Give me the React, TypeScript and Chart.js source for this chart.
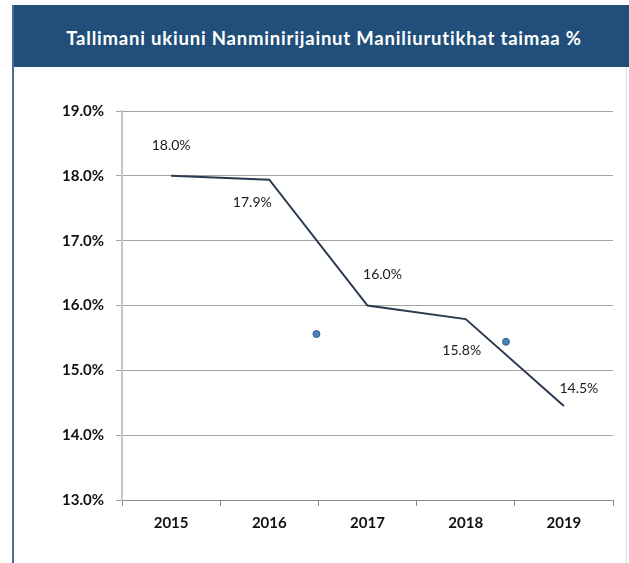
import React, { useEffect, useRef } from "react";
import { Chart, registerables } from "chart.js";

Chart.register(...registerables);

const TITLE = "Tallimani ukiuni Nanminirijainut Maniliurutikhat taimaa %";
const YEARS = ["2015", "2016", "2017", "2018", "2019"];
const RATES = [18.0, 17.94, 16.0, 15.79, 14.45];
const RATE_LABELS = ["18.0%", "17.9%", "16.0%", "15.8%", "14.5%"];
const STRAY_X = [1.48, 3.41];
const STRAY_Y = [15.56, 15.44];
const Y_MIN = 13;
const Y_MAX = 19;

const FONT = 'Lato, "Open Sans", "Liberation Sans", sans-serif';
const LABEL_OFFSETS: [number, number][] = [
  [0, -30],
  [-17, 23],
  [15, -31],
  [-4, 31],
  [15, -18],
];

const labelPlugin = {
  id: "rateLabels",
  afterDatasetsDraw(chart: any) {
    const meta = chart.getDatasetMeta(0);
    const ctx = chart.ctx;
    ctx.save();
    ctx.font = `14px ${FONT}`;
    ctx.fillStyle = "#1a1a1a";
    ctx.textAlign = "center";
    ctx.textBaseline = "middle";
    meta.data.forEach((pt: any, i: number) => {
      const [dx, dy] = LABEL_OFFSETS[i];
      ctx.fillText(RATE_LABELS[i], pt.x + dx, pt.y + dy);
    });
    ctx.restore();
  },
};

export default function App() {
  const ref = useRef<HTMLCanvasElement>(null);

  useEffect(() => {
    if (!ref.current) return;
    const chart = new Chart(ref.current, {
      type: "line",
      data: {
        labels: YEARS,
        datasets: [
          {
            data: RATES,
            borderColor: "#2B3950",
            borderWidth: 2,
            pointRadius: 0,
            tension: 0,
            fill: false,
          } as any,
          {
            data: STRAY_X.map((x, i) => ({ x, y: STRAY_Y[i] })),
            xAxisID: "x2",
            showLine: false,
            pointRadius: 3.5,
            pointBackgroundColor: "#4B80BE",
            pointBorderColor: "#36638F",
            pointBorderWidth: 1,
          } as any,
        ],
      },
      options: {
        responsive: false,
        animation: false,
        layout: { padding: { left: 0, top: 111, right: 16, bottom: 0 } },
        plugins: {
          legend: { display: false },
          tooltip: { enabled: false },
          title: { display: false },
        },
        scales: {
          x: {
            type: "category",
            offset: true,
            grid: {
              offset: true,
              drawOnChartArea: false,
              drawTicks: true,
              tickLength: 6,
              color: "#8A8A8A",
              tickColor: "#8A8A8A",
            },
            border: { color: "#8A8A8A", width: 1 },
            ticks: {
              padding: 8,
              color: "#111",
              font: { family: FONT, size: 15, weight: "bold" },
            },
            afterFit(scale: any) {
              scale.height = 63;
            },
          },
          x2: {
            type: "linear",
            display: false,
            min: -0.5,
            max: 4.5,
          },
          y: {
            min: Y_MIN,
            max: Y_MAX,
            ticks: {
              stepSize: 1,
              padding: 12,
              color: "#111",
              font: { family: FONT, size: 15, weight: "bold" },
              callback: (v: any) => Number(v).toFixed(1) + "%",
            },
            grid: {
              color: "#A3A3A3",
              lineWidth: 1,
              tickLength: 6,
              tickColor: "#A3A3A3",
            },
            border: { color: "#C4C4C4", width: 2 },
            afterFit(scale: any) {
              scale.width = 122;
            },
          },
        },
      } as any,
      plugins: [labelPlugin],
    });
    return () => chart.destroy();
  }, []);

  return (
    <div
      style={{
        position: "absolute",
        left: 0,
        top: 0,
        width: 629,
        height: 563,
        background: "#fff",
        overflow: "hidden",
      }}
    >
      <div
        style={{
          position: "absolute",
          left: 13,
          top: 5,
          width: 616,
          height: 62,
          background: "#214F79",
          color: "#fff",
          fontFamily: FONT,
          fontWeight: "bold",
          fontSize: 18.5,
          letterSpacing: 0.8,
          display: "flex",
          alignItems: "center",
          justifyContent: "center",
          paddingTop: 3,
          paddingLeft: 6,
          boxSizing: "border-box",
          whiteSpace: "nowrap",
        }}
      >
        {TITLE}
      </div>
      <div
        style={{
          position: "absolute",
          left: 12,
          top: 5,
          width: 1.5,
          height: 558,
          background: "#4C6E96",
        }}
      />
      <div
        style={{
          position: "absolute",
          left: 626,
          top: 67,
          width: 1,
          height: 496,
          background: "#D6DEE8",
        }}
      />
      <canvas
        ref={ref}
        width={629}
        height={563}
        style={{ position: "absolute", left: 0, top: 0 }}
      />
    </div>
  );
}
